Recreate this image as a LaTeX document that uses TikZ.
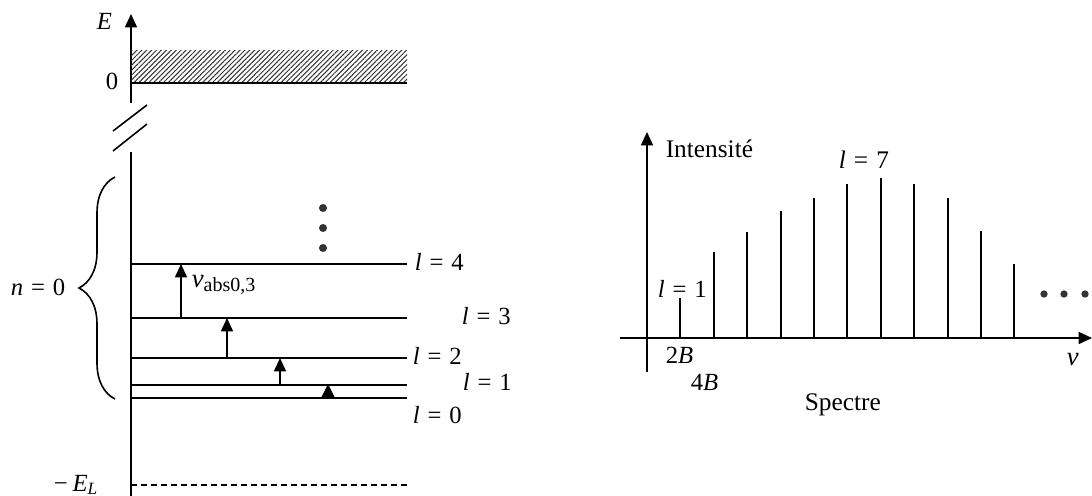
\documentclass[tikz,border=0pt]{standalone}
\usepackage{fontspec}
\setmainfont{Liberation Serif}
\usetikzlibrary{arrows.meta,patterns.meta,decorations.pathreplacing}
\newcommand\myeq{\hspace{0.32em}=\hspace{0.32em}}
\begin{document}
\begin{tikzpicture}[x=0.75pt,y=-0.75pt, line width=1.2pt,
  uptip/.style={-{Triangle[width=9pt,length=10pt]}},
  lvl/.style={line width=1.2pt},
  spec/.style={line width=1.6pt},
  lab/.style={font=\fontsize{18.5}{20}\selectfont, inner sep=0pt, anchor=base west},
  biglab/.style={font=\fontsize{19}{22}\selectfont, inner sep=0pt, anchor=base west},
  bigdot/.style={circle, fill=black!80, inner sep=0pt, minimum size=6pt},
  smalldot/.style={circle, fill=black!80, inner sep=0pt, minimum size=5.5pt}]
\useasboundingbox (0,0) rectangle (1092,496);

% ---------------- left: energy diagram ----------------
\coordinate (Etop) at (131,14);
\coordinate (Ebrk) at (131,103);
\coordinate (Ebrk2) at (131,152);
\coordinate (Ebot) at (131,496);
\draw[uptip] (Ebrk) -- (Etop);
\draw (Ebrk2) -- (Ebot);
\draw (113,131) -- (147,105);
\draw (113,151) -- (147,124);

\fill[pattern={Lines[angle=45,distance=2.6pt,line width=0.75pt]}, pattern color=black!80] (131,50) rectangle (407,83);
\coordinate (Z0) at (131,83);
\coordinate (Z1) at (407,83);
\draw (Z0) -- (Z1);

\node[lab] (labE) at (96,29) {\textit{E}};
\node[lab] (lab0) at (105,89) {0};

% levels
\foreach \n/\y in {0/398,1/385,2/358,3/318,4/264}{
  \coordinate (L\n a) at (131,\y);
  \coordinate (L\n b) at (407,\y);
  \draw[lvl] (L\n a) -- (L\n b);
}
\coordinate (EL0) at (131,485);
\coordinate (EL1) at (407,485);
\draw[line width=1pt, dash pattern=on 4.5pt off 3pt] (EL0) -- (EL1);
\node[lab] (labEL) at (53,491) {−\hspace{0.2em}\textit{E}\textsubscript{\textit{L}}};

\node[lab] (l4) at (414,270) {\textit{l}\myeq 4};
\node[lab] (l3) at (461,324) {\textit{l}\myeq 3};
\node[lab] (l2) at (412,364) {\textit{l}\myeq 2};
\node[lab] (l1) at (462,390) {\textit{l}\myeq 1};
\node[lab] (l0) at (412,423) {\textit{l}\myeq 0};

% transitions
\coordinate (t1a) at (181,318); \coordinate (t1b) at (181,264);
\coordinate (t2a) at (227,358); \coordinate (t2b) at (227,318);
\coordinate (t3a) at (280,385); \coordinate (t3b) at (280,358);
\coordinate (t4a) at (328,398); \coordinate (t4b) at (328,385);
\draw[uptip] (t1a) -- (t1b);
\draw[uptip] (t2a) -- (t2b);
\draw[uptip] (t3a) -- (t3b);
\fill (321,398) -- (335,398) -- (328,384) -- cycle;
\node[lab] (nu) at (191,287) {\fontsize{20}{22}\selectfont\textit{ν}\textsubscript{\fontsize{15}{16}\selectfont abs0,3}};

% dots
\node[bigdot] (d1) at (323,208) {};
\node[bigdot] (d2) at (323,228) {};
\node[bigdot] (d3) at (323,248) {};

% brace
\draw[line width=1.2pt, decorate, decoration={brace, amplitude=27pt, aspect=0.5}] (115,399) -- (115,177);
\node[lab] (n0) at (10,295) {\textit{n}\myeq 0};

% ---------------- right: spectrum ----------------
\coordinate (Hx0) at (620,338);
\coordinate (Hx1) at (1092,338);
\coordinate (Vy0) at (647,372);
\coordinate (Vy1) at (647,132);
\draw[-{Triangle[width=9pt,length=10pt]}] (Hx0) -- (Hx1);
\draw[-{Triangle[width=9pt,length=10pt]}] (Vy0) -- (Vy1);

\foreach \i/\x/\t in {1/680/298,2/714/252,3/747/232,4/781/211,5/814/198,6/847/184,7/881/178,8/914/184,9/948/198,10/981/231,11/1014/264}{
  \coordinate (s\i a) at (\x,338);
  \coordinate (s\i b) at (\x,\t);
  \draw[spec] (s\i a) -- (s\i b);
}

\node[biglab] (inten) at (665,157) {Intensité};
\node[biglab] (l7) at (838,168) {\textit{l}\myeq 7};
\node[lab] (r1) at (657,297) {\textit{l}\myeq 1};
\node[lab] (b2) at (665,363) {2\textit{B}};
\node[lab] (b4) at (690,390) {4\textit{B}};
\node[biglab] (spectre) at (804,410) {Spectre};
\node[lab] (nuax) at (1066,365) {\fontsize{20}{22}\selectfont\textit{ν}};

\node[smalldot] (r1d) at (1044,294) {};
\node[smalldot] (r2d) at (1064,294) {};
\node[smalldot] (r3d) at (1085,294) {};
\end{tikzpicture}
\end{document}
